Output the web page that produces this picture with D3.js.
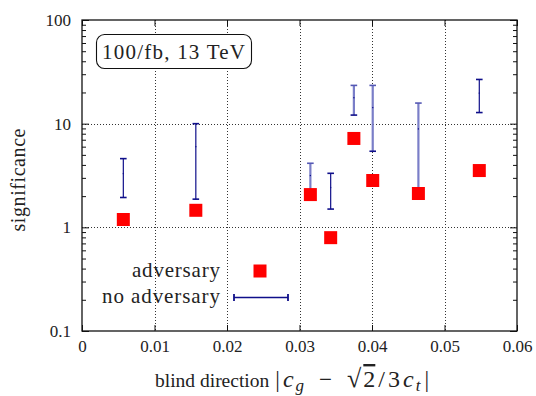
<!DOCTYPE html>
<html>
<head>
<meta charset="utf-8">
<script src="https://cdn.jsdelivr.net/npm/d3@7"></script>
<style>
  html, body { margin: 0; padding: 0; background: #fff; }
  svg { display: block; }
  text { font-family: "Liberation Serif", "Times New Roman", serif; fill: #222; }
</style>
</head>
<body>
<svg id="chart" width="536" height="396"></svg>
<script>
// Blind-direction offsets (x) for each benchmark
const directions = [0.0057, 0.0157, 0.0315, 0.0343, 0.0375, 0.0401, 0.0464, 0.0548];
// Significance with adversarial training
const adversary = [1.19, 1.46, 2.07, 0.795, 7.2, 2.83, 2.12, 3.53];
// Significance without adversary: low / central / high
const noAdvLow  = [1.94, 1.87, 2.16, 1.50, 12.1, 5.42, 2.15, 12.8];
const noAdvMid  = [3.3, 6.0, 3.16, 2.42, 17.8, 14.3, 8.9, 19.7];
const noAdvHigh = [4.6, 10.0, 4.15, 3.32, 23.4, 23.4, 15.8, 26.7];
// Bars rendered in the softer (anti-aliased) shade
const softBar = [false, false, true, false, true, true, true, false];

const xTicks = [0, 0.01, 0.02, 0.03, 0.04, 0.05, 0.06];
const xTickLabels = ["0", "0.01", "0.02", "0.03", "0.04", "0.05", "0.06"];
const yTicks = [0.1, 1, 10, 100];
const yTickLabels = ["0.1", "1", "10", "100"];
const yMinor = [0.2,0.3,0.4,0.5,0.6,0.7,0.8,0.9, 2,3,4,5,6,7,8,9, 20,30,40,50,60,70,80,90];

const svg = d3.select("#chart");
const W = 536, H = 396;
const m = { left: 82, right: 19, top: 20, bottom: 65 };
const x = d3.scaleLinear().domain([0, 0.06]).range([m.left, W - m.right]);
const y = d3.scaleLog().domain([0.1, 100]).range([H - m.bottom, m.top]);
const x0 = x.range()[0], x1 = x.range()[1];
const y0 = y.range()[0], y1 = y.range()[1];

const blue = "#0f0f8a";
const red = "#ff0000";

// dotted grid
const grid = svg.append("g").attr("stroke", "#333").attr("stroke-width", 1)
  .attr("stroke-dasharray", "1,2");
grid.selectAll(".gx").data(xTicks.slice(1, -1)).join("line")
  .attr("x1", d => Math.round(x(d)) + 0.5).attr("x2", d => Math.round(x(d)) + 0.5)
  .attr("y1", y1).attr("y2", y0);
grid.selectAll(".gy").data([1, 10]).join("line")
  .attr("y1", d => Math.round(y(d)) + 0.5).attr("y2", d => Math.round(y(d)) + 0.5)
  .attr("x1", x0).attr("x2", x1);

// axes with inward ticks on all four sides
function styleAxis(g) {
  g.select(".domain").remove();
  g.selectAll(".tick line").attr("stroke", "#111").attr("stroke-width", 1);
  g.selectAll("text").attr("font-size", 17).attr("fill", "#222")
    .attr("font-family", "Liberation Serif, serif");
}
const fmtX = d => xTickLabels[xTicks.indexOf(d)];
const fmtY = d => yTickLabels[yTicks.findIndex(v => Math.abs(v - d) < 1e-9)];

svg.append("g").attr("transform", `translate(0,${y0})`)
  .call(d3.axisBottom(x).tickValues(xTicks).tickSize(-6).tickPadding(9).tickFormat(fmtX))
  .call(styleAxis);
svg.append("g").attr("transform", `translate(0,${y1})`)
  .call(d3.axisTop(x).tickValues(xTicks).tickSize(-6).tickFormat(""))
  .call(styleAxis);
svg.append("g").attr("transform", `translate(${x0},0)`)
  .call(d3.axisLeft(y).tickValues(yTicks).tickSize(-7).tickPadding(11).tickFormat(fmtY))
  .call(styleAxis);
svg.append("g").attr("transform", `translate(${x0},0)`)
  .call(d3.axisLeft(y).tickValues(yMinor).tickSize(-4).tickFormat(""))
  .call(styleAxis);
svg.append("g").attr("transform", `translate(${x1},0)`)
  .call(d3.axisRight(y).tickValues(yTicks).tickSize(-7).tickFormat(""))
  .call(styleAxis);
svg.append("g").attr("transform", `translate(${x1},0)`)
  .call(d3.axisRight(y).tickValues(yMinor).tickSize(-4).tickFormat(""))
  .call(styleAxis);

// plot border
svg.append("rect").attr("x", x0).attr("y", y1).attr("width", x1 - x0).attr("height", y0 - y1)
  .attr("fill", "none").attr("stroke", "#111").attr("stroke-width", 1.3);

// no-adversary error bars
const bars = directions.map((d, i) => ({ x: d, lo: noAdvLow[i], mid: noAdvMid[i], hi: noAdvHigh[i], soft: softBar[i] }));
const capW = 3.3;
const eb = svg.append("g");
bars.forEach(b => {
  const g = eb.append("g")
    .attr("stroke", b.soft ? "#7a7ec8" : blue)
    .attr("stroke-width", b.soft ? 2.2 : 1.2);
  const cx = x(b.x);
  g.append("line").attr("x1", cx).attr("x2", cx).attr("y1", y(b.lo)).attr("y2", y(b.hi));
  g.append("line").attr("x1", cx - capW).attr("x2", cx + capW).attr("y1", y(b.lo)).attr("y2", y(b.lo))
    .attr("stroke", blue).attr("stroke-width", 1.6);
  g.append("line").attr("x1", cx - capW).attr("x2", cx + capW).attr("y1", y(b.hi)).attr("y2", y(b.hi))
    .attr("stroke", b.soft ? "#5458b4" : blue).attr("stroke-width", 1.6);
  g.append("rect").attr("x", cx - 0.6).attr("y", y(b.mid) - 0.6).attr("width", 1.2).attr("height", 1.2)
    .attr("fill", blue).attr("stroke", "none");
});

// adversary markers
const sq = 13;
svg.append("g").selectAll("rect").data(directions.map((d, i) => ({ x: d, v: adversary[i] })))
  .join("rect")
  .attr("x", d => x(d.x) - sq / 2).attr("y", d => y(d.v) - sq / 2)
  .attr("width", sq).attr("height", sq).attr("fill", red);

// legend
const leg = svg.append("g");
leg.append("text").attr("x", 220).attr("y", 277).attr("text-anchor", "end")
  .attr("font-size", 21).attr("textLength", 88).attr("lengthAdjust", "spacing").text("adversary");
leg.append("rect").attr("x", 260 - sq / 2).attr("y", 271 - sq / 2).attr("width", sq).attr("height", sq).attr("fill", red);
leg.append("text").attr("x", 220).attr("y", 303).attr("text-anchor", "end")
  .attr("font-size", 21).attr("textLength", 118).attr("lengthAdjust", "spacing").text("no adversary");
const lg = leg.append("g").attr("stroke", blue).attr("stroke-width", 1.3);
lg.append("line").attr("x1", 234).attr("x2", 288).attr("y1", 297.5).attr("y2", 297.5);
lg.append("line").attr("x1", 234).attr("x2", 234).attr("y1", 294).attr("y2", 301).attr("stroke-width", 1.8);
lg.append("line").attr("x1", 288).attr("x2", 288).attr("y1", 294).attr("y2", 301).attr("stroke-width", 1.8);

// luminosity label
svg.append("rect").attr("x", 96.5).attr("y", 34.5).attr("width", 155).attr("height", 34)
  .attr("rx", 8).attr("fill", "#fff").attr("stroke", "#111").attr("stroke-width", 1.1);
svg.append("text").attr("x", 102).attr("y", 58.5)
  .attr("font-size", 21).attr("textLength", 143).attr("lengthAdjust", "spacing").text("100/fb, 13 TeV");

// axis titles
svg.append("text").attr("transform", "translate(25,180) rotate(-90)")
  .attr("text-anchor", "middle").attr("font-size", 20)
  .attr("textLength", 103).attr("lengthAdjust", "spacing").text("significance");

const xt = svg.append("text").attr("x", 155).attr("y", 387).attr("font-size", 19.5);
xt.append("tspan").text("blind direction");
xt.append("tspan").attr("dx", 6).attr("font-size", 23).text("|");
xt.append("tspan").attr("font-style", "italic").attr("font-size", 24).attr("dx", 3).text("c");
xt.append("tspan").attr("font-style", "italic").attr("font-size", 17).attr("dy", 4).attr("dx", 2).text("g");
xt.append("tspan").attr("dy", -4).attr("dx", 15).attr("font-size", 23).text("\u2212");
xt.append("tspan").attr("dx", 15).attr("font-size", 26).text("\u221A");
xt.append("tspan").attr("text-decoration", "overline").attr("font-size", 24).attr("dx", 2).text("2");
xt.append("tspan").attr("font-size", 24).attr("dx", 3).text("/");
xt.append("tspan").attr("font-size", 24).attr("dx", 3).text("3");
xt.append("tspan").attr("font-style", "italic").attr("font-size", 24).attr("dx", 3).text("c");
xt.append("tspan").attr("font-style", "italic").attr("font-size", 17).attr("dy", 4).attr("dx", 2).text("t");
xt.append("tspan").attr("dy", -4).attr("dx", 4).attr("font-size", 23).text("|");
</script>
</body>
</html>
